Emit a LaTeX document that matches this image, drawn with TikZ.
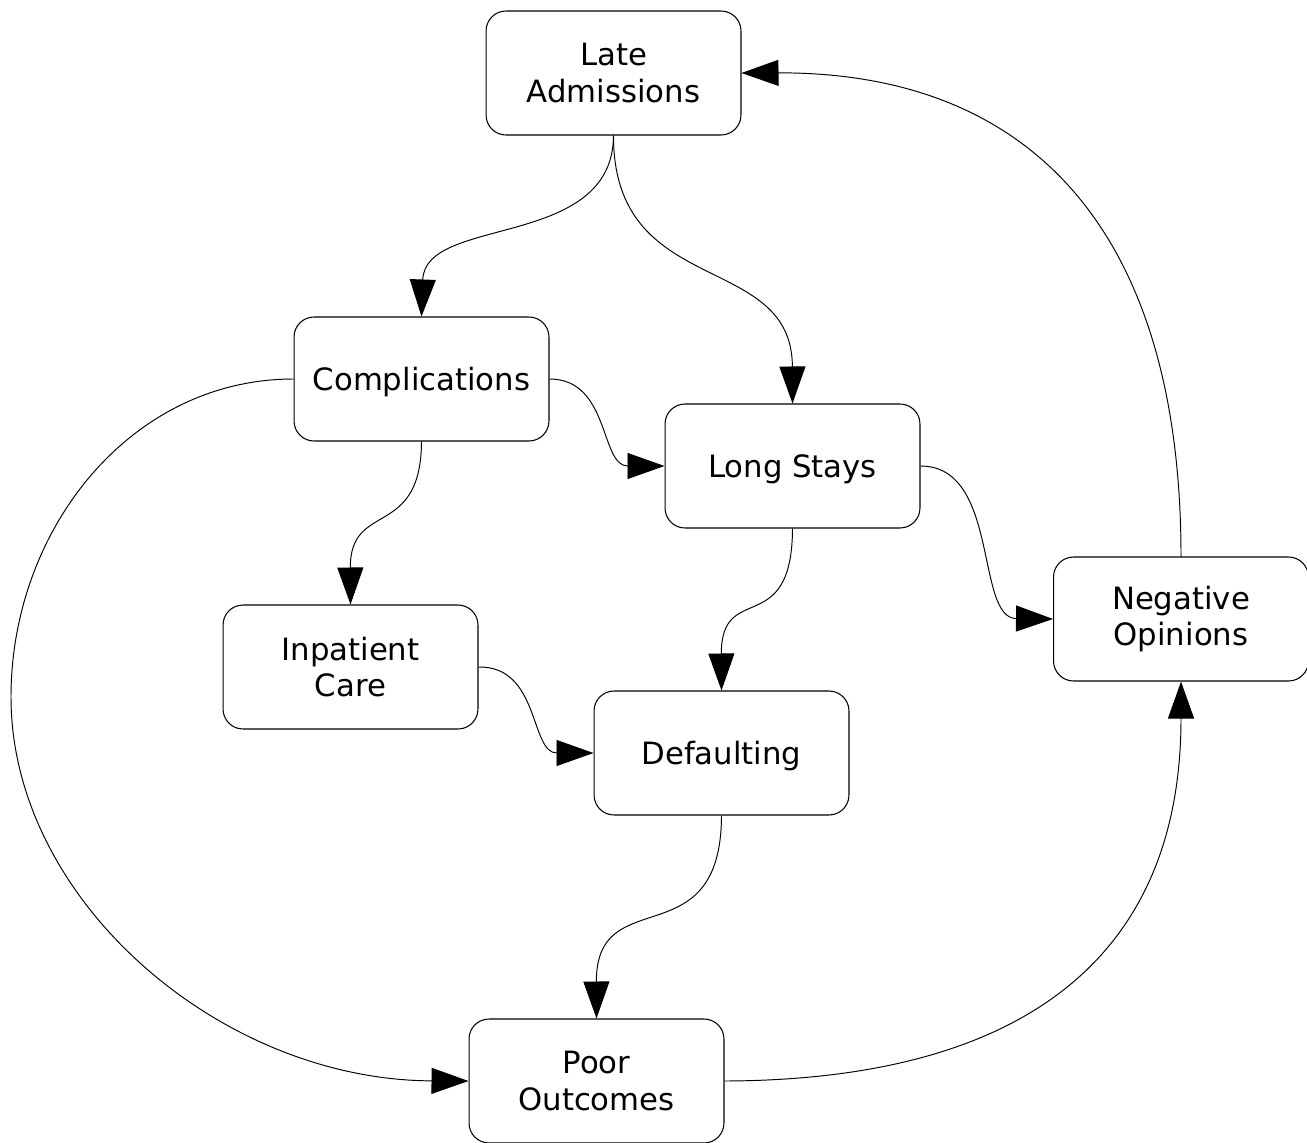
\documentclass[tikz,border=0pt]{standalone}
\usepackage{fontspec}
\setmainfont{DejaVu Sans}
\usetikzlibrary{arrows.meta}
\begin{document}
\begin{tikzpicture}[x=0.02cm,y=-0.02cm,
  box/.style={draw=black, line width=0.6pt, rounded corners=0.4cm,
    minimum width=5.1cm, minimum height=2.48cm, inner sep=0pt,
    align=center, font=\fontsize{17.5}{21}\selectfont},
  oneline/.style={text depth=0pt},
  link/.style={line width=0.55pt, -{Triangle[length=0.74cm,width=0.52cm]}}]
\useasboundingbox (0,0) rectangle (1307,1142);

% states
\node[box] (la)  at (613.5,73)   {Late\\Admissions};
\node[box, oneline] (comp) at (421.5,379) {Complications};
\node[box, oneline] (ls)  at (792.5,466)  {Long Stays};
\node[box] (ic)  at (350.5,667)  {Inpatient\\Care};
\node[box, oneline] (def) at (721.5,753)  {Defaulting};
\node[box] (no)  at (1181,619)   {Negative\\Opinions};
\node[box] (po)  at (596.5,1081) {Poor\\Outcomes};

\coordinate (farleft) at (11,697);

% causal links
\draw[link] (la.south) .. controls (613,250) and (425,215) .. (comp.north);
\draw[link] (la.south) .. controls (613,300) and (792,250) .. (ls.north);
\draw[link] (comp.east) .. controls (610,379) and (600,466) .. (ls.west);
\draw[link] (comp.south) .. controls (421,540) and (350,500) .. (ic.north);
\draw[link] (ls.south) .. controls (792,640) and (721,580) .. (def.north);
\draw[link] (ls.east) .. controls (1000,466) and (975,618) .. (no.west);
\draw[link] (ic.east) .. controls (540,666) and (530,753) .. (def.west);
\draw[link] (def.south) .. controls (721,960) and (596,880) .. (po.north);
\draw[link] (comp.west) .. controls (130,379) and (11,530) .. (farleft)
                        .. controls (11,900) and (220,1080) .. (po.west);
\draw[link] (po.east) .. controls (1020,1080) and (1181,960) .. (no.south);
\draw[link] (no.north) .. controls (1181,230) and (1030,72) .. (la.east);
\end{tikzpicture}
\end{document}
